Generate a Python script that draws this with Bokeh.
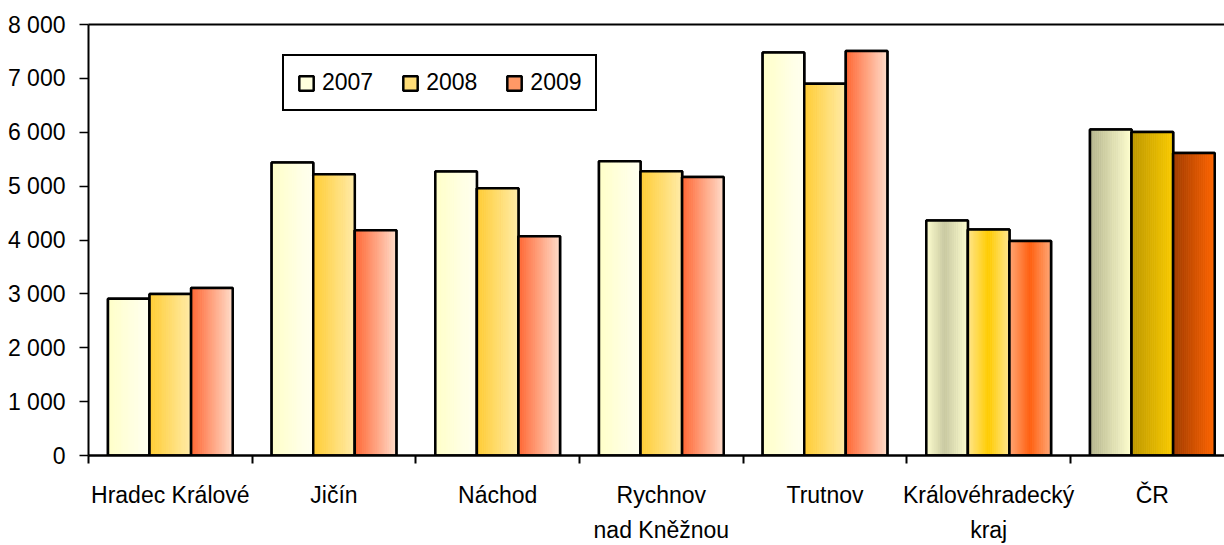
from bokeh.plotting import figure
from bokeh.models import (ColumnDataSource, Range1d, FixedTicker, LinearAxis,
                          Legend, LegendItem)
from bokeh.embed import file_html
from bokeh.resources import INLINE

# ---------------- data ----------------
categories = ["Hradec Králové", "Jičín", "Náchod", "Rychnov\nnad Kněžnou",
              "Trutnov", "Královéhradecký\nkraj", "ČR"]
years = ["2007", "2008", "2009"]
values_2007 = [2910, 5440, 5270, 5460, 7480, 4360, 6050]
values_2008 = [3000, 5220, 4960, 5275, 6900, 4195, 6005]
values_2009 = [3110, 4180, 4070, 5170, 7510, 3980, 5615]
y_ticks = [0, 1000, 2000, 3000, 4000, 5000, 6000, 7000, 8000]
y_tick_labels = ["0", "1 000", "2 000", "3 000", "4 000", "5 000", "6 000", "7 000", "8 000"]

series = [values_2007, values_2008, values_2009]

# ---------------- styles ----------------
FONT = "Liberation Sans"
FS = "23px"
BAR_W = 0.254
N_STRIPES = 22

grad_regular = [
    [(0.0, (255, 255, 200)), (1.0, (255, 255, 242))],
    [(0.0, (255, 204, 51)), (1.0, (255, 236, 170))],
    [(0.0, (255, 102, 51)), (1.0, (255, 222, 204))],
]
grad_kraj = [
    [(0.0, (255, 255, 208)), (0.45, (200, 200, 160)), (1.0, (255, 255, 210))],
    [(0.0, (255, 230, 144)), (0.5, (255, 204, 0)), (1.0, (255, 230, 144))],
    [(0.0, (255, 168, 120)), (0.5, (255, 96, 16)), (1.0, (255, 168, 120))],
]
grad_cr = [
    [(0.0, (180, 180, 140)), (1.0, (255, 255, 208))],
    [(0.0, (188, 150, 0)), (1.0, (250, 204, 0))],
    [(0.0, (160, 60, 0)), (1.0, (255, 102, 0))],
]
legend_colors = ["#FFFFDD", "#FFDD77", "#FF9966"]


def grad_color(stops, t):
    for (t0, c0), (t1, c1) in zip(stops[:-1], stops[1:]):
        if t0 <= t <= t1:
            f = (t - t0) / (t1 - t0) if t1 > t0 else 0
            c = [round(a + (b - a) * f) for a, b in zip(c0, c1)]
            return "#%02x%02x%02x" % tuple(c)
    c = stops[-1][1]
    return "#%02x%02x%02x" % tuple(c)


def group_for(i):
    if categories[i].startswith("Královéhradecký"):
        return grad_kraj
    if categories[i] == "ČR":
        return grad_cr
    return grad_regular


# ---------------- figure ----------------
W, H = 1224, 545
left_b, right_b, top_b, bottom_b = 88, 0, 24, 89
cat_px = 163.67
x_end = (W - left_b - right_b) / cat_px

p = figure(width=W, height=H, output_backend="svg", toolbar_location=None,
           x_range=Range1d(0, x_end), y_range=Range1d(0, 8000),
           min_border_left=left_b, min_border_right=right_b,
           min_border_top=top_b, min_border_bottom=bottom_b,
           x_axis_type=None, y_axis_type=None)
p.outline_line_color = None
p.background_fill_color = "white"
p.border_fill_color = "white"

# y axis
yax = LinearAxis(ticker=FixedTicker(ticks=y_ticks))
yax.major_label_overrides = {t: l for t, l in zip(y_ticks, y_tick_labels)}
yax.axis_line_width = 2
yax.axis_line_color = "black"
yax.major_tick_out = 9
yax.major_tick_in = 0
yax.major_tick_line_width = 1.5
yax.minor_tick_line_color = None
yax.major_label_text_font = FONT
yax.major_label_text_font_size = FS
yax.major_label_text_color = "black"
yax.major_label_standoff = 14
p.add_layout(yax, "left")

# x axis: labels at centres, ticks at boundaries
centers = [i + 0.5 for i in range(len(categories))]
bounds = [float(i) for i in range(len(categories) + 1)]
xax = LinearAxis(ticker=FixedTicker(ticks=centers, minor_ticks=bounds))
xax.major_label_overrides = {c: n for c, n in zip(centers, categories)}
xax.axis_line_width = 2.5
xax.axis_line_color = "black"
xax.major_tick_line_color = None
xax.major_tick_out = 0
xax.major_tick_in = 0
xax.minor_tick_out = 8
xax.minor_tick_in = 0
xax.minor_tick_line_width = 2
xax.minor_tick_line_color = "black"
xax.major_label_text_font = FONT
xax.major_label_text_font_size = FS
xax.major_label_text_color = "black"
xax.major_label_text_line_height = 1.35
xax.major_label_standoff = 18
p.add_layout(xax, "below")

# top frame line
tax = LinearAxis(ticker=FixedTicker(ticks=[]))
tax.axis_line_width = 2
tax.axis_line_color = "black"
tax.major_tick_out = 0
tax.major_tick_in = 0
tax.major_label_text_font_size = "0px"
tax.major_label_standoff = 0
p.add_layout(tax, "above")

# grid
p.ygrid.ticker = FixedTicker(ticks=y_ticks[1:-1])
p.ygrid.grid_line_color = "black"
p.ygrid.grid_line_width = 1
p.ygrid.grid_line_dash = "8 7"
p.xgrid.grid_line_color = None

# bars
legend_items = []
for j, vals in enumerate(series):
    xs = [i + 0.5 + (j - 1) * BAR_W for i in range(len(categories))]
    base_src = ColumnDataSource(dict(x=xs, top=vals))
    r = p.vbar(x="x", top="top", width=BAR_W, bottom=0, source=base_src,
               fill_color=legend_colors[j], line_color="black", line_width=2.5)
    legend_items.append(LegendItem(label=years[j], renderers=[r]))

    lefts, rights, tops, colors = [], [], [], []
    for i, (x, v) in enumerate(zip(xs, vals)):
        stops = group_for(i)[j]
        x0 = x - BAR_W / 2
        dw = BAR_W / N_STRIPES
        for k in range(N_STRIPES):
            lefts.append(x0 + k * dw)
            rights.append(x0 + (k + 1) * dw)
            tops.append(v)
            colors.append(grad_color(stops, (k + 0.5) / N_STRIPES))
    s_src = ColumnDataSource(dict(left=lefts, right=rights, top=tops,
                                  bottom=[0] * len(tops), color=colors))
    p.quad(left="left", right="right", top="top", bottom="bottom", source=s_src,
           fill_color="color", line_color="color", line_width=0.6)

    p.vbar(x="x", top="top", width=BAR_W, bottom=0, source=base_src,
           fill_color=None, line_color="black", line_width=2.5)

legend = Legend(items=legend_items, location=(194, 344), orientation="horizontal")
legend.border_line_color = "black"
legend.border_line_width = 2
legend.border_line_alpha = 1
legend.background_fill_color = "white"
legend.background_fill_alpha = 1
legend.glyph_width = 18
legend.glyph_height = 18
legend.label_text_font = FONT
legend.label_text_font_size = FS
legend.label_text_color = "black"
legend.label_standoff = 7
legend.padding = 13
legend.spacing = 28
legend.margin = 0
p.add_layout(legend, "center")

open("out.html", "w").write(file_html(p, INLINE))
